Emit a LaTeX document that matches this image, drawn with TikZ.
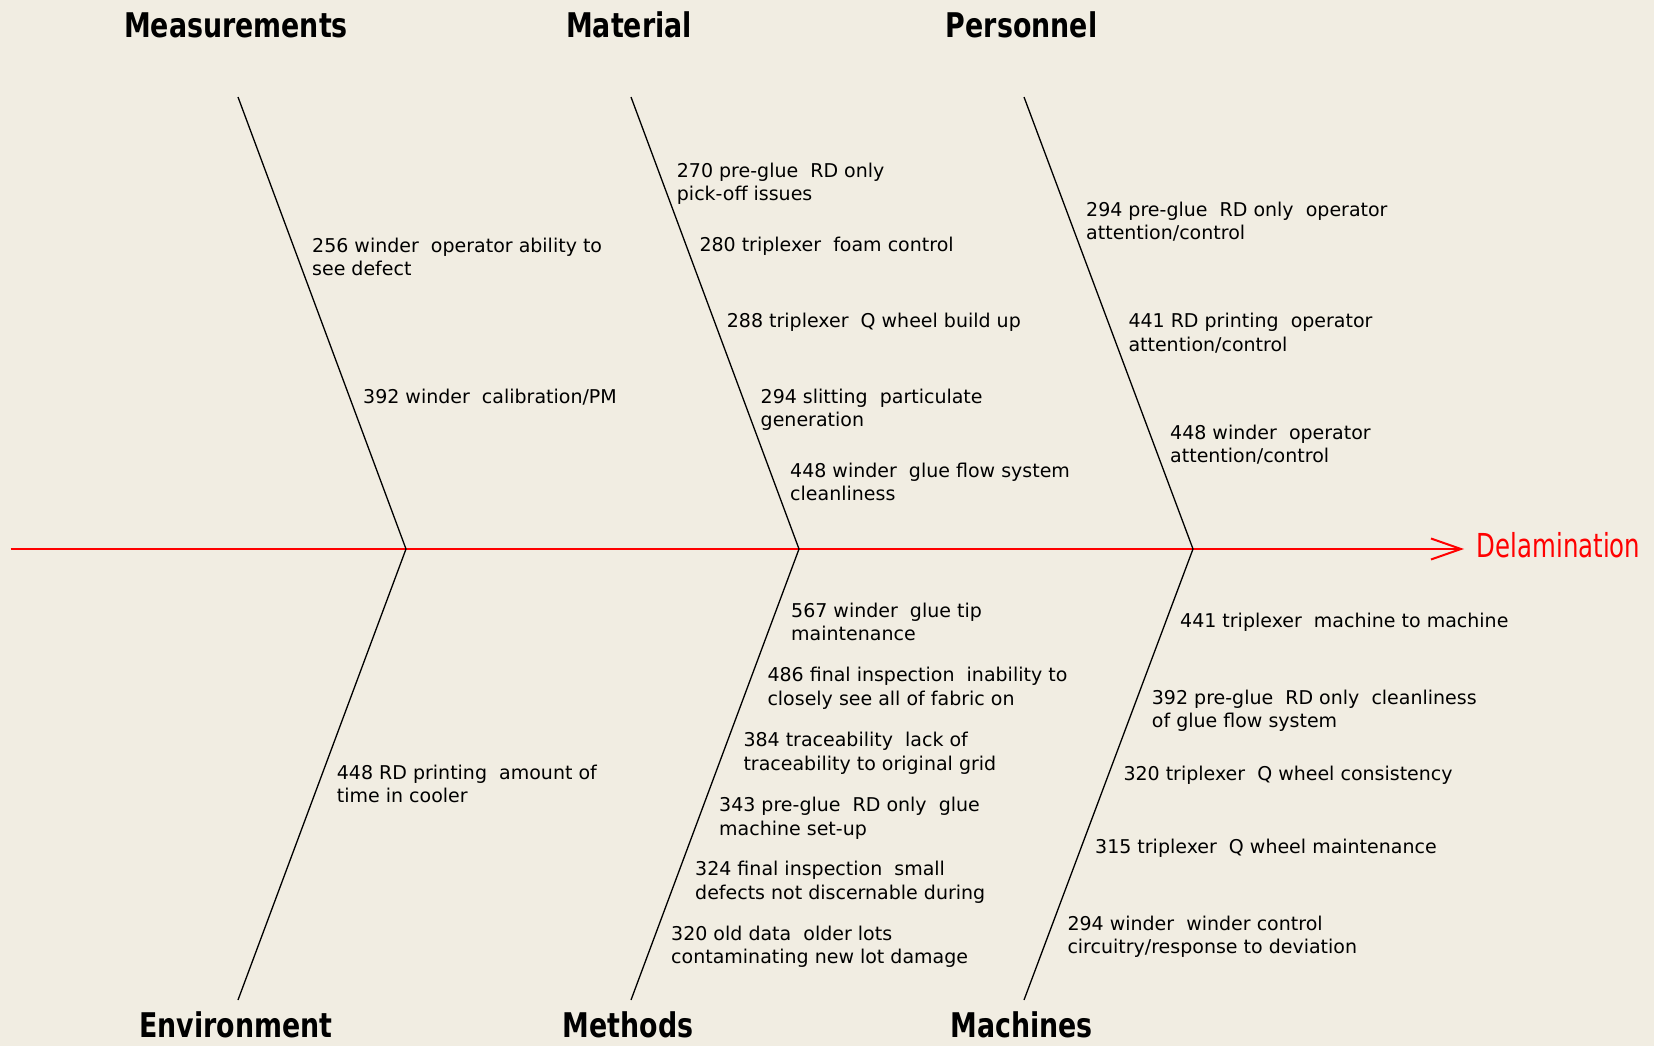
\documentclass[tikz,border=0pt]{standalone}
\usepackage{fontspec}
\setmainfont{DejaVu Sans}
\usetikzlibrary{arrows.meta}
\definecolor{bgc}{RGB}{241,237,226}
\newcommand{\fbtxt}[1]{\begin{tabular}[t]{@{}l@{}}#1\end{tabular}}
\newcommand{\fbttl}[1]{\scalebox{0.79}[1]{#1}}
\begin{document}
\begin{tikzpicture}[x=1pt,y=-1pt,
  bone/.style={draw=black,line width=1.3pt},
  spine/.style={draw=red,line width=2pt},
  item/.style={anchor=base west,inner sep=0pt,font=\fontsize{19}{23.5}\selectfont},
  ttl/.style={anchor=base,inner sep=0pt,font=\fontsize{34}{40}\selectfont\bfseries}]
\fill[bgc] (0,0) rectangle (1654,1046);
\useasboundingbox (0,0) rectangle (1654,1046);
% coordinates
\coordinate (s0) at (10.5,549);
\coordinate (tip) at (1464,549);
\coordinate (j1) at (406,549);
\coordinate (j2) at (799,549);
\coordinate (j3) at (1193,549);
\coordinate (t1) at (238,97);
\coordinate (t2) at (631,97);
\coordinate (t3) at (1024,97);
\coordinate (b1) at (238,1000);
\coordinate (b2) at (631,1000);
\coordinate (b3) at (1024,1000);
% spine
\draw[spine,-{Straight Barb[length=30pt,width=21pt,line width=2pt]}] (s0) -- (tip);
\node[anchor=base west,inner sep=0pt,text=red,font=\fontsize{33}{38}\selectfont] (effect) at (1476.7,557) {\scalebox{0.74}[1]{Delamination}};
% bones
\draw[bone] (t1) -- (j1) -- (b1);
\draw[bone] (t2) -- (j2) -- (b2);
\draw[bone] (t3) -- (j3) -- (b3);
% titles
\node[ttl] (meas) at (236,37.3) {\fbttl{Measurements}};
\node[ttl] (mat) at (629,37.3) {\fbttl{Material}};
\node[ttl] (pers) at (1021.6,37.3) {\fbttl{Personnel}};
\node[ttl] (env) at (236,1037.3) {\fbttl{Environment}};
\node[ttl] (meth) at (628,1037.3) {\fbttl{Methods}};
\node[ttl] (mach) at (1021.6,1037.3) {\fbttl{Machines}};
% Measurements
\node[item] (m1) at (312,252.3) {\fbtxt{256 winder~ operator ability to\\see defect}};
\node[item] (m2) at (363,403) {\fbtxt{392 winder~ calibration/PM}};
% Material
\node[item] (a1) at (676.7,177.3) {\fbtxt{270 pre-glue~ RD only\\pick-off issues}};
\node[item] (a2) at (699.3,251.7) {\fbtxt{280 triplexer~ foam control}};
\node[item] (a3) at (726.7,327.3) {\fbtxt{288 triplexer~ Q wheel build up}};
\node[item] (a4) at (760.5,403) {\fbtxt{294 slitting~ particulate\\generation}};
\node[item] (a5) at (790,477) {\fbtxt{448 winder~ glue flow system\\cleanliness}};
% Personnel
\node[item] (p1) at (1086,216) {\fbtxt{294 pre-glue~ RD only~ operator\\attention/control}};
\node[item] (p2) at (1128.3,327.7) {\fbtxt{441 RD printing~ operator\\attention/control}};
\node[item] (p3) at (1170,439.3) {\fbtxt{448 winder~ operator\\attention/control}};
% Environment
\node[item] (e1) at (336.7,779.3) {\fbtxt{448 RD printing~ amount of\\time in cooler}};
% Methods
\node[item] (d1) at (791,617.3) {\fbtxt{567 winder~ glue tip\\maintenance}};
\node[item] (d2) at (767.3,681.7) {\fbtxt{486 final inspection~ inability to\\closely see all of fabric on}};
\node[item] (d3) at (743.3,746.7) {\fbtxt{384 traceability~ lack of\\traceability to original grid}};
\node[item] (d4) at (719,811.7) {\fbtxt{343 pre-glue~ RD only~ glue\\machine set-up}};
\node[item] (d5) at (695,875.7) {\fbtxt{324 final inspection~ small\\defects not discernable during}};
\node[item] (d6) at (671,940) {\fbtxt{320 old data~ older lots\\contaminating new lot damage}};
% Machines
\node[item] (c1) at (1180,627.3) {\fbtxt{441 triplexer~ machine to machine}};
\node[item] (c2) at (1151.7,704) {\fbtxt{392 pre-glue~ RD only~ cleanliness\\of glue flow system}};
\node[item] (c3) at (1123.3,780) {\fbtxt{320 triplexer~ Q wheel consistency}};
\node[item] (c4) at (1095,853.3) {\fbtxt{315 triplexer~ Q wheel maintenance}};
\node[item] (c5) at (1067.3,930) {\fbtxt{294 winder~ winder control\\circuitry/response to deviation}};
\end{tikzpicture}
\end{document}
